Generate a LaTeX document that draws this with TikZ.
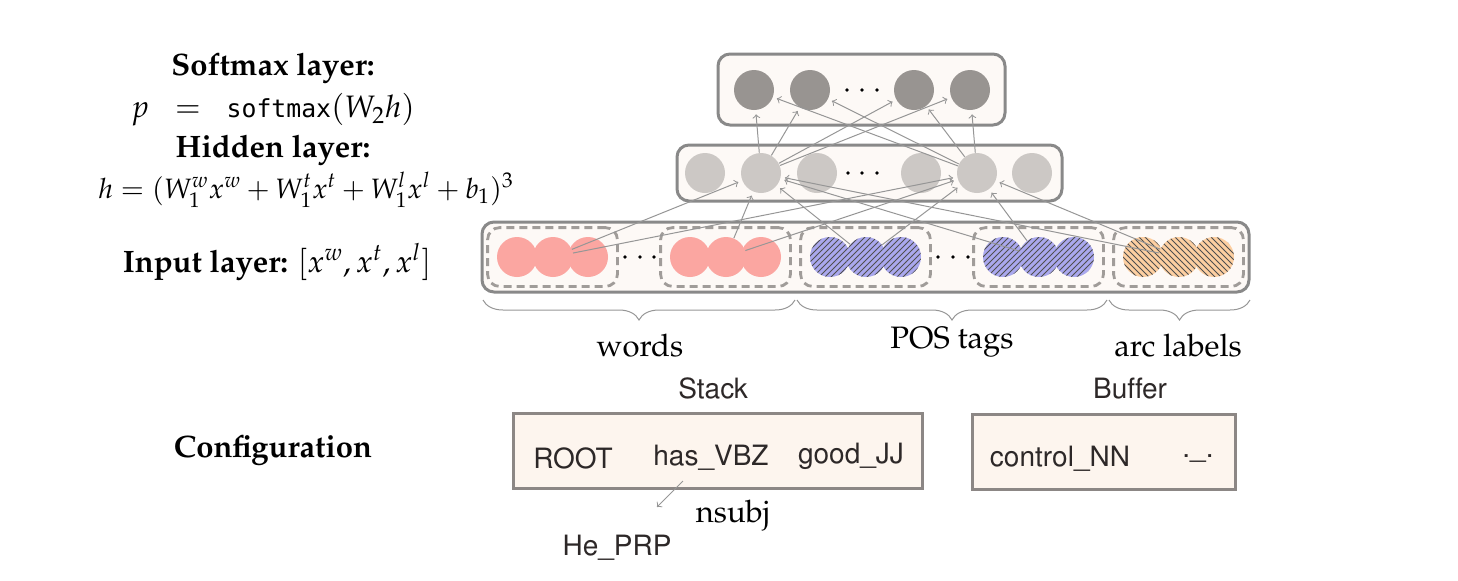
\documentclass[tikz,border=0pt]{standalone}
\usepackage[no-math]{fontspec}
\newfontfamily\monosans{DejaVu Sans Mono}[Scale=0.8]
\usepackage[T1]{fontenc}
\usepackage{mathpazo}
\usepackage{helvet}
\usetikzlibrary{fit,backgrounds,patterns,decorations.pathreplacing}

\definecolor{boxgray}{RGB}{137,137,137}
\definecolor{boxfill}{RGB}{253,249,246}
\definecolor{dashgray}{RGB}{160,156,153}
\definecolor{outgray}{RGB}{152,148,145}
\definecolor{hidgray}{RGB}{204,200,197}
\definecolor{wordred}{RGB}{251,166,161}
\definecolor{tagblue}{RGB}{170,168,238}
\definecolor{laborange}{RGB}{253,207,161}
\definecolor{hatch}{RGB}{80,80,80}
\definecolor{linegray}{RGB}{150,150,150}
\definecolor{cfgfill}{RGB}{253,245,238}
\definecolor{cfgline}{RGB}{140,135,133}
\definecolor{textgray}{RGB}{45,40,40}

\newcommand{\bigtext}{\fontsize{15.5}{18}\selectfont}

\tikzset{
  layerbox/.style={draw=boxgray, line width=1.5pt, fill=boxfill, rounded corners=6pt},
  groupbox/.style={draw=dashgray, line width=1.4pt, dash pattern=on 4pt off 2.5pt,
                   rounded corners=6pt, fill=boxfill, inner sep=4.5pt},
  unit/.style={circle, inner sep=0pt, minimum size=20pt},
  outunit/.style={unit, fill=outgray},
  hidunit/.style={unit, fill=hidgray},
  wordunit/.style={unit, fill=wordred},
  tagunit/.style={unit, fill=tagblue, postaction={pattern=north east lines, pattern color=hatch}},
  labunit/.style={unit, fill=laborange, postaction={pattern=north west lines, pattern color=hatch}},
  conn/.style={->, draw=linegray, line width=0.5pt, shorten >=2pt},
  brace/.style={decorate, decoration={brace, mirror, amplitude=10pt}, draw=linegray, line width=0.5pt},
  cfgbox/.style={draw=cfgline, line width=1.5pt, fill=cfgfill},
  lbl/.style={font=\sffamily\fontsize{14}{16}\selectfont, text=textgray},
  txt/.style={font=\bigtext},
  head/.style={font=\bigtext\bfseries},
}

\begin{document}
\begin{tikzpicture}[x=0.5pt, y=-0.5pt]
  \useasboundingbox (0,0) rectangle (1458,580);

  % left column
  \node[head] (softhead) at (273,68) {Softmax layer:};
  \node[txt]  (softeq)   at (273,110) {$p \;\;=\;\; \mbox{\monosans softmax}(W_2h)$};
  \node[head] (hidhead)  at (273,150) {Hidden layer:};
  \node[font=\fontsize{14}{17}\selectfont] (hideq) at (306,190)
    {$h = (W_1^w x^w + W_1^t x^t + W_1^l x^l + b_1)^3$};
  \node[txt]  (inhead)   at (277,262) {\textbf{Input layer:} $[x^w, x^t, x^l]$};
  \node[head] (config)   at (273,450) {Configuration};

  % units
  \foreach \i/\x in {1/754,2/810,3/914,4/970}
    \node[outunit] (o\i) at (\x,90) {};
  \foreach \i/\x in {1/705,2/761,3/817,4/921,5/977,6/1032}
    \node[hidunit] (h\i) at (\x,173) {};
  \foreach \g/\x/\s in {w1/517/wordunit, w2/690/wordunit, t1/830/tagunit, t2/1003/tagunit, l/1143/labunit}
    \foreach \c/\d in {a/0,b/36,c/71}
      \node[\s] (\g\c) at (\x+\d,257) {};

  % dots
  \foreach \x in {847,862,877} \fill (\x,90) circle (0.9pt);
  \foreach \x in {848,862,877} \fill (\x,173) circle (0.9pt);
  \foreach \x in {625,640,654,938,953,968} \fill (\x,257) circle (0.9pt);

  % connections
  \foreach \s in {w1b,w2b,t1b,t2b,lb}
    \foreach \t in {h2,h5}
      \draw[conn] (\s) -- (\t);
  \foreach \s in {h2,h5}
    \foreach \t in {o1,o2,o3,o4}
      \draw[conn] (\s) -- (\t);

  \begin{scope}[on background layer]
    \draw[layerbox] (718,54) rectangle (1005,125);
    \draw[layerbox] (677,145) rectangle (1062,201);
    \draw[layerbox] (482,222) rectangle (1249,292);
    \foreach \g in {w1,w2,t1,t2,l}
      \node[groupbox, fit=(\g a)(\g c)] (\g box) {};
  \end{scope}

  % braces
  \draw[brace] (483,300) -- (795,300);
  \draw[brace] (797,300) -- (1107,300);
  \draw[brace] (1109,300) -- (1250,300);
  \node[txt] (words)     at (640,346)  {words};
  \node[txt] (postags)   at (952,342)  {POS tags};
  \node[txt] (arclabels) at (1178,346) {arc labels};

  % configuration
  \node[lbl] (stack)  at (713,388)  {Stack};
  \node[lbl] (buffer) at (1130,388) {Buffer};
  \draw[cfgbox] (513,413) rectangle (922,488);
  \draw[cfgbox] (972,414) rectangle (1235,489);
  \node[lbl] (root)    at (573,458)  {ROOT};
  \node[lbl] (has)     at (711,457)  {has\_VBZ};
  \node[lbl] (good)    at (851,457)  {good\_JJ};
  \node[lbl] (control) at (1060,458) {control\_NN};
  \node[lbl] (period)  at (1198,458) {.\_.};
  \coordinate (nsubjfoot) at (683,481);
  \coordinate (nsubjtip)  at (657,507);
  \draw[conn, shorten >=0pt] (nsubjfoot) -- (nsubjtip);
  \node[txt] (nsubj) at (733,516) {nsubj};
  \node[lbl] (he)    at (617,547) {He\_PRP};
\end{tikzpicture}
\end{document}
